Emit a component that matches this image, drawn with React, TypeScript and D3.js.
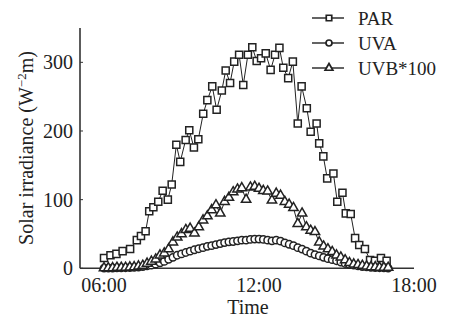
import React from "react";
import * as d3 from "d3";

// PAR: [time (h), value]
const parTimes = [6.0, 6.25, 6.48, 6.72, 7.01, 7.27, 7.43, 7.61, 7.75, 7.91, 8.1, 8.27, 8.47, 8.62, 8.8, 8.95, 9.16, 9.3, 9.48, 9.65, 9.84, 10.0, 10.19, 10.36, 10.56, 10.71, 10.88, 11.04, 11.23, 11.39, 11.57, 11.74, 11.91, 12.08, 12.26, 12.45, 12.62, 12.79, 12.94, 13.13, 13.31, 13.5, 13.65, 13.85, 14.0, 14.23, 14.33, 14.49, 14.64, 14.88, 15.03, 15.23, 15.36, 15.55, 15.72, 15.88, 16.1, 16.3, 16.49, 16.72, 16.94];
const parValues = [15, 19, 21, 25, 28, 41, 47, 54, 83, 89, 97, 113, 100, 122, 180, 155, 187, 201, 176, 188, 225, 245, 265, 231, 259, 288, 270, 301, 311, 267, 311, 322, 302, 306, 313, 289, 311, 321, 292, 277, 301, 211, 265, 233, 199, 211, 182, 163, 131, 138, 97, 110, 80, 79, 44, 34, 28, 12, 11, 15, 11];

// UVA and UVB*100 every 10 minutes from 06:00 to 17:00
const uvTimes = d3.range(0, 67).map((k) => 6 + k / 6);
const uvaValues = [0.3, 0.3, 0.4, 0.5, 0.6, 0.8, 1, 1.3, 1.8, 2.5, 3.5, 4.5, 6, 8, 10, 13, 16, 19, 21, 23, 25, 27, 28.5, 30, 32, 33, 34.5, 36, 37.5, 38.5, 39, 40, 41, 41, 42, 42.5, 42.5, 42, 41, 40, 41, 39.5, 37, 35, 33, 30, 28, 25, 22, 20, 18, 16, 14, 12.5, 11, 9, 7, 5.5, 4.5, 3.5, 2.5, 2, 1.5, 1, 0.8, 0.5, 0.4];
const uvbValues = [0.5, 0.5, 0.5, 1, 1, 1, 1.5, 2, 3, 4, 7, 10, 13, 19, 22, 28, 38, 45, 50, 56, 58, 51, 60, 70, 76, 85, 92, 80, 97, 103, 111, 115, 117, 100, 118, 119, 116, 113, 112, 99, 109, 106, 97, 93, 88, 65, 80, 60, 55, 53, 38, 32, 28, 24, 19, 16, 12, 8, 6, 5, 4, 3, 2, 2, 1, 1, 1];

const yTicks = [0, 100, 200, 300];
const xTicks = [6, 12, 18];
const xTickLabels = ["06:00", "12:00", "18:00"];
const seriesNames = ["PAR", "UVA", "UVB*100"];

const FONT = "'Liberation Serif', 'Times New Roman', serif";

export default function App() {
  const x = d3.scaleLinear().domain([5.07, 18]).range([80, 414]);
  const y = d3.scaleLinear().domain([0, 350]).range([268.3, 28]);

  const series = [
    { name: seriesNames[0], pts: parTimes.map((t, i) => [t, parValues[i]]), sym: d3.symbolSquare, size: 50, lsize: 30 },
    { name: seriesNames[1], pts: uvTimes.map((t, i) => [t, uvaValues[i]]), sym: d3.symbolCircle, size: 42, lsize: 28 },
    { name: seriesNames[2], pts: uvTimes.map((t, i) => [t, uvbValues[i]]), sym: d3.symbolTriangle, size: 38, lsize: 26 },
  ];

  const line = d3
    .line<number[]>()
    .x((d) => x(d[0]))
    .y((d) => y(d[1]));

  const legendY = [18, 43, 68];

  return (
    <svg width={455} height={322} style={{ position: "absolute", left: 0, top: 0, background: "#fff" }}>
      {/* axes */}
      <line x1={x(5.07)} x2={x(5.07)} y1={y(0)} y2={y(350)} stroke="#333" strokeWidth={1.6} />
      <line x1={x(5.07)} x2={x(18)} y1={y(0)} y2={y(0)} stroke="#333" strokeWidth={1.6} />
      {yTicks.map((t) => (
        <g key={t}>
          <line x1={x(5.07)} x2={x(5.07) + 3} y1={y(t)} y2={y(t)} stroke="#333" strokeWidth={1} />
          <text x={73} y={y(t) + 7} textAnchor="end" fontFamily={FONT} fontSize={20} fill="#222">
            {t}
          </text>
        </g>
      ))}
      {xTicks.map((t, i) => (
        <text key={t} x={x(t)} y={292} textAnchor="middle" fontFamily={FONT} fontSize={20} fill="#222">
          {xTickLabels[i]}
        </text>
      ))}
      <text x={248} y={314} textAnchor="middle" fontFamily={FONT} fontSize={20} fill="#222">
        Time
      </text>
      <text transform="translate(33,148) rotate(-90)" textAnchor="middle" fontFamily={FONT} fontSize={20} fill="#222">
        Solar irradiance (W
        <tspan dy={-7} fontSize={13}>−2</tspan>
        <tspan dy={7}>m)</tspan>
      </text>

      {/* series */}
      {series.map((s) => (
        <g key={s.name}>
          <path d={line(s.pts) || ""} fill="none" stroke="#222" strokeWidth={1} />
          {s.pts.map((p, i) => (
            <path
              key={i}
              d={d3.symbol().type(s.sym).size(s.size)() || ""}
              transform={`translate(${x(p[0])},${y(p[1])})`}
              fill="#fff"
              stroke="#222"
              strokeWidth={1.5}
            />
          ))}
        </g>
      ))}

      {/* legend */}
      {series.map((s, i) => (
        <g key={s.name}>
          <line x1={312} x2={344} y1={legendY[i]} y2={legendY[i]} stroke="#222" strokeWidth={1.4} />
          <path
            d={d3.symbol().type(s.sym).size(s.lsize)() || ""}
            transform={`translate(329,${legendY[i]})`}
            fill="#fff"
            stroke="#222"
            strokeWidth={1.7}
          />
          <text x={358} y={legendY[i] + 6.5} fontFamily={FONT} fontSize={19} fill="#222">
            {s.name}
          </text>
        </g>
      ))}
    </svg>
  );
}
